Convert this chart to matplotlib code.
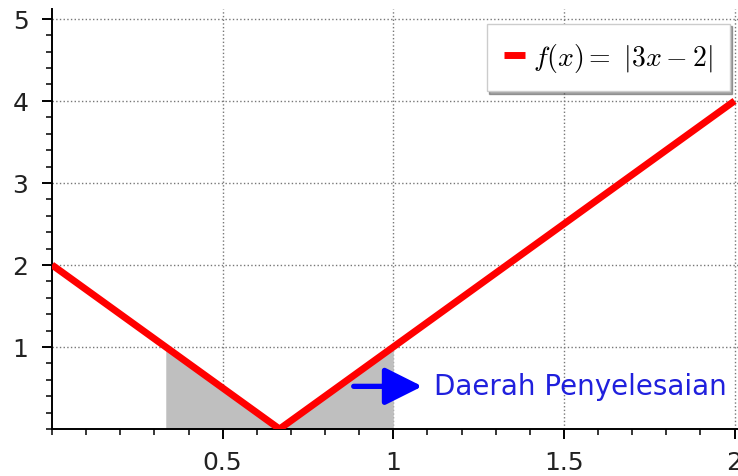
import numpy as np
import matplotlib
matplotlib.use("Agg")
import matplotlib.pyplot as plt
from matplotlib.ticker import MultipleLocator, FixedLocator

# data: f(x) = |3x - 2| sampled at its corner points
x_pts = [0.0, 2.0 / 3.0, 2.0]
y_pts = [2.0, 0.0, 4.0]

# shaded solution region, 1/3 <= x <= 1
shade_x = [1.0 / 3.0, 2.0 / 3.0, 1.0]
shade_y = [1.0, 0.0, 1.0]

x_ticks = [0.5, 1, 1.5, 2]
x_labels = ["0.5", "1", "1.5", "2"]
y_ticks = [1, 2, 3, 4, 5]

label_text = "Daerah Penyelesaian"
legend_label = r"$f(x) =\ |3x - 2|$"

plt.rcParams["mathtext.fontset"] = "cm"

fig = plt.figure(figsize=(7.38, 4.77), dpi=100)
ax = fig.add_axes([52 / 738, 47 / 477, 686 / 738, 420 / 477])

ax.fill_between(shade_x, 0, shade_y, color="#bfbfbf", linewidth=0, zorder=1)
ax.plot(x_pts, y_pts, color="red", linewidth=5, label=legend_label,
        solid_capstyle="butt", zorder=3)

ax.annotate("", xy=(1.085, 0.52), xytext=(0.884, 0.52),
            arrowprops=dict(arrowstyle="-|>,head_length=2.3,head_width=1.15",
                            color="blue", lw=3.8, shrinkA=0, shrinkB=0),
            zorder=4)
ax.text(1.12, 0.52, label_text, color="#2020dd", fontsize=20,
        va="center", ha="left", zorder=4)

ax.set_xlim(0, 2.01)
ax.set_ylim(0, 5.12)

for side in ["top", "right"]:
    ax.spines[side].set_visible(False)
ax.spines["left"].set_linewidth(1.4)
ax.spines["bottom"].set_linewidth(1.4)

ax.xaxis.set_major_locator(FixedLocator(x_ticks))
ax.set_xticklabels(x_labels)
ax.xaxis.set_minor_locator(MultipleLocator(0.1))
ax.yaxis.set_major_locator(FixedLocator(y_ticks))
ax.yaxis.set_minor_locator(MultipleLocator(0.2))
ax.tick_params(which="major", direction="out", length=7, width=1.4,
               labelsize=18, colors="black")
ax.tick_params(axis="x", which="major", pad=8)
ax.tick_params(axis="y", which="major", pad=10)
ax.tick_params(which="minor", direction="out", length=4, width=1.1)
for lab in ax.get_xticklabels() + ax.get_yticklabels():
    lab.set_color("#222222")

ax.grid(True, which="major", color="#777777", linestyle=":", linewidth=1)
ax.set_axisbelow(True)

leg = ax.legend(loc="upper right", fontsize=20, shadow=True, fancybox=False,
                handlelength=0.75, handletextpad=0.3, borderpad=0.62,
                borderaxespad=0.3, framealpha=1,
                bbox_to_anchor=(1.0, 0.985))
leg.get_frame().set_edgecolor("#cccccc")

fig.savefig("out.png", dpi=100)
